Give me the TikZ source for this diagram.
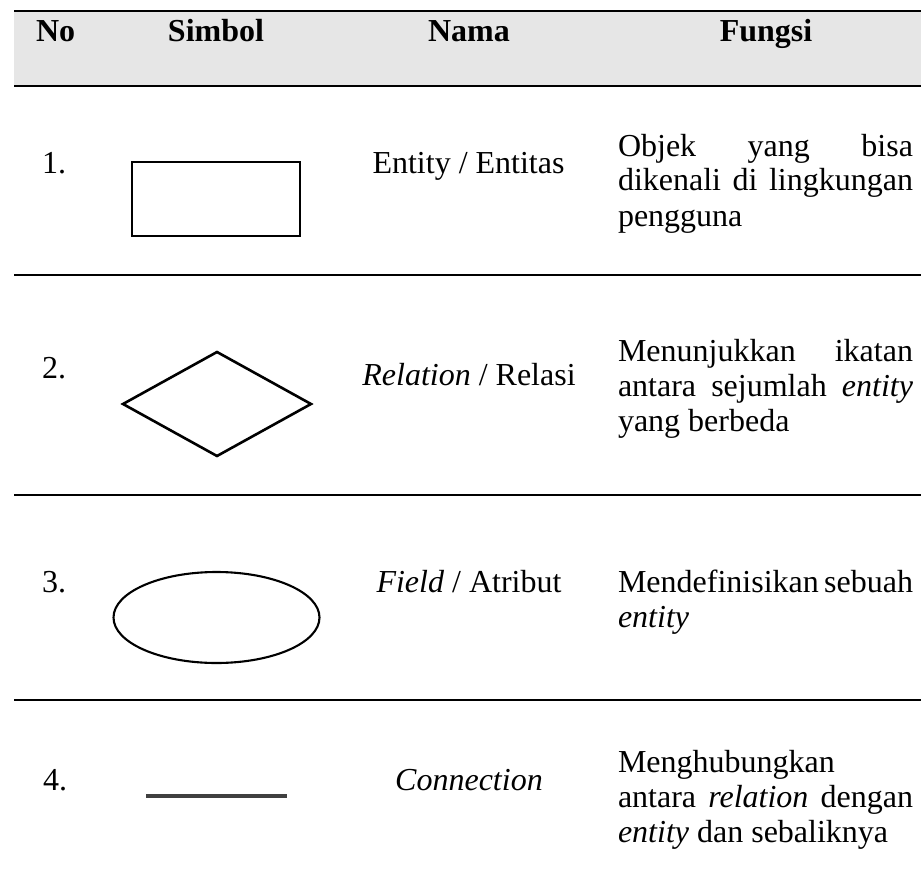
\documentclass[tikz,border=0pt]{standalone}
\usepackage{fontspec}
\setmainfont{Liberation Serif}
\usetikzlibrary{shapes.geometric}
\definecolor{hdrgray}{HTML}{E6E6E6}
\definecolor{conngray}{HTML}{404040}
\newcommand\jline[1]{\makebox[147.5pt][s]{#1}}
\begin{document}
\begin{tikzpicture}[x=0.5pt,y=-0.5pt,
  txt/.style={inner sep=0pt, outer sep=0pt, font=\fontsize{16}{17.5}\selectfont},
  hdr/.style={inner sep=0pt, outer sep=0pt, font=\fontsize{16}{17.5}\selectfont\bfseries, anchor=base},
  numtxt/.style={txt, anchor=base west},
  nametxt/.style={txt, anchor=base},
  fntxt/.style={txt, anchor=base west},
  rulethick/.style={line width=1.35pt},
  rulethin/.style={line width=1.3pt},
  symb/.style={draw, line width=1.3pt, inner sep=0pt, outer sep=0pt}]
\useasboundingbox (0,0) rectangle (921,883);
% header
\fill[hdrgray] (14,11) rectangle (921,86);
\draw[rulethick] (14,11) -- (921,11);
\draw[rulethick] (14,86) -- (921,86);
\node[hdr, anchor=base west] (hno) at (36,42) {No};
\node[hdr] (hsim) at (216,42) {Simbol};
\node[hdr] (hnama) at (469,42) {Nama};
\node[hdr] (hfungsi) at (766,42) {Fungsi};
% row separators
\draw[rulethin] (14,275) -- (921,275);
\draw[rulethin] (14,495) -- (921,495);
\draw[rulethin] (14,700) -- (921,700);
% row 1
\node[numtxt] (n1) at (42,173) {1.};
\node[symb, rectangle, minimum width=84pt, minimum height=37pt] (s1) at (216,199) {};
\node[nametxt] (m1) at (468.5,173) {Entity / Entitas};
\node[fntxt] (f1a) at (618,156) {\jline{Objek yang bisa}};
\node[fntxt] (f1b) at (618,191) {\jline{dikenali di lingkungan}};
\node[fntxt] (f1c) at (618,226) {pengguna};
% row 2
\node[numtxt] (n2) at (42,378) {2.};
\node[symb, diamond, minimum width=94pt, minimum height=52pt] (s2) at (217,404) {};
\node[nametxt] (m2) at (469,385) {\textit{Relation} / Relasi};
\node[fntxt] (f2a) at (618,361.5) {\jline{Menunjukkan ikatan}};
\node[fntxt] (f2b) at (618,396) {\jline{antara sejumlah \textit{entity}}};
\node[fntxt] (f2c) at (618,431) {yang berbeda};
% row 3
\node[numtxt] (n3) at (42,592) {3.};
\node[symb, ellipse, line width=1.05pt, minimum width=103pt, minimum height=45.5pt] (s3) at (216.5,617.5) {};
\node[nametxt] (m3) at (469,592) {\textit{Field} / Atribut};
\node[fntxt] (f3a) at (618,592) {\jline{Mendefinisikan sebuah}};
\node[fntxt] (f3b) at (618,627) {\textit{entity}};
% row 4
\node[numtxt] (n4) at (43,790) {4.};
\coordinate (c4a) at (146,796);
\coordinate (c4b) at (287,796);
\draw[conngray, line width=1.6pt] (c4a) -- (c4b);
\node[nametxt] (m4) at (469,790) {\textit{Connection}};
\node[fntxt] (f4a) at (618,772) {Menghubungkan};
\node[fntxt] (f4b) at (618,807) {\jline{antara \textit{relation} dengan}};
\node[fntxt] (f4c) at (618,842) {\textit{entity} dan sebaliknya};
\end{tikzpicture}
\end{document}
